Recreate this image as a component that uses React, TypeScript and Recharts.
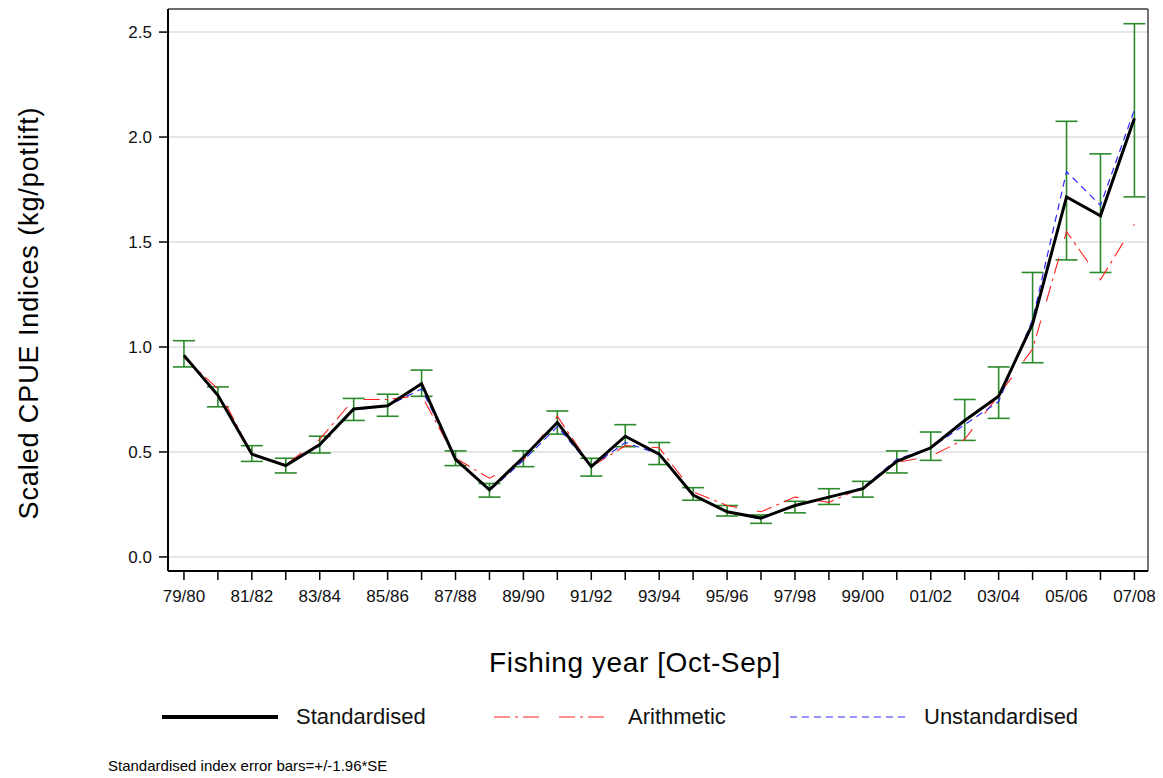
import React from "react";
import {
  CartesianGrid,
  ComposedChart,
  ErrorBar,
  Label,
  Line,
  ReferenceLine,
  XAxis,
  YAxis,
} from "recharts";

const years = [
  "79/80", "80/81", "81/82", "82/83", "83/84", "84/85", "85/86", "86/87",
  "87/88", "88/89", "89/90", "90/91", "91/92", "92/93", "93/94", "94/95",
  "95/96", "96/97", "97/98", "98/99", "99/00", "00/01", "01/02", "02/03",
  "03/04", "04/05", "05/06", "06/07", "07/08",
];

const standardised = [
  0.96, 0.77, 0.49, 0.435, 0.535, 0.705, 0.72, 0.825, 0.465, 0.32, 0.475,
  0.64, 0.43, 0.575, 0.49, 0.295, 0.215, 0.185, 0.245, 0.285, 0.325, 0.455,
  0.52, 0.65, 0.765, 1.11, 1.715, 1.625, 2.09,
];

const lower = [
  0.905, 0.715, 0.455, 0.4, 0.495, 0.65, 0.67, 0.765, 0.435, 0.285, 0.43,
  0.585, 0.385, 0.525, 0.44, 0.27, 0.195, 0.16, 0.21, 0.25, 0.285, 0.4, 0.46,
  0.555, 0.66, 0.925, 1.415, 1.355, 1.715,
];

const upper = [
  1.03, 0.81, 0.53, 0.47, 0.575, 0.755, 0.775, 0.89, 0.505, 0.35, 0.505,
  0.695, 0.47, 0.63, 0.545, 0.33, 0.245, 0.2, 0.265, 0.325, 0.36, 0.505,
  0.595, 0.75, 0.905, 1.355, 2.075, 1.92, 2.54,
];

const arithmetic = [
  0.95, 0.8, 0.49, 0.44, 0.56, 0.75, 0.75, 0.77, 0.47, 0.375, 0.46, 0.67,
  0.43, 0.53, 0.52, 0.31, 0.245, 0.215, 0.285, 0.26, 0.33, 0.45, 0.48, 0.56,
  0.77, 0.99, 1.55, 1.32, 1.585,
];

const unstandardised = [
  0.955, 0.775, 0.485, 0.435, 0.53, 0.7, 0.72, 0.8, 0.47, 0.315, 0.46, 0.62,
  0.43, 0.545, 0.49, 0.295, 0.215, 0.18, 0.245, 0.285, 0.33, 0.465, 0.52,
  0.63, 0.74, 1.13, 1.835, 1.675, 2.13,
];

const yTicks = [0, 0.5, 1, 1.5, 2, 2.5];

const data = years.map((year, i) => ({
  i,
  year,
  std: standardised[i],
  err: [standardised[i] - lower[i], upper[i] - standardised[i]],
  arith: arithmetic[i],
  unstd: unstandardised[i],
}));

const X_MIN = -0.47;
const X_MAX = 28.4;
const Y_MIN = -0.067;
const Y_MAX = 2.61;

const font = "'Liberation Sans', Arial, sans-serif";
const green = "#2b8a2b";

const legendItems = [
  { name: "Standardised", color: "#000", width: 4, dash: undefined, left: 162 },
  { name: "Arithmetic", color: "#ff2020", width: 1.1, dash: "16 5 3 5 16 20", left: 494 },
  { name: "Unstandardised", color: "#2a2aff", width: 1.2, dash: "7 5", left: 790 },
];

export default function App() {
  return (
    <div
      style={{
        position: "absolute",
        left: 0,
        top: 0,
        width: 1163,
        height: 778,
        background: "#fff",
        fontFamily: font,
      }}
    >
      <ComposedChart
        width={1163}
        height={778}
        data={data}
        margin={{ top: 9, right: 15, bottom: 0, left: 0 }}
      >
        <CartesianGrid vertical={false} stroke="#dedede" strokeWidth={1.5} />
        <XAxis
          type="number"
          dataKey="i"
          domain={[X_MIN, X_MAX]}
          allowDataOverflow
          ticks={years.map((_, i) => i)}
          interval={0}
          tickFormatter={(v) => (v % 2 === 0 ? years[v] : "")}
          height={207}
          tickSize={9}
          tickMargin={10}
          axisLine={{ stroke: "#000", strokeWidth: 2 }}
          tickLine={{ stroke: "#000", strokeWidth: 1.5 }}
          tick={{ fill: "#111", fontSize: 17, fontFamily: font }}
        >
          <Label
            content={() => (
              <text
                x={635}
                y={662}
                textAnchor="middle"
                dominantBaseline="central"
                fontSize={28}
                letterSpacing={0.6}
                fontFamily={font}
                fill="#000"
              >
                Fishing year [Oct-Sep]
              </text>
            )}
          />
        </XAxis>
        <YAxis
          type="number"
          domain={[Y_MIN, Y_MAX]}
          allowDataOverflow
          ticks={yTicks}
          interval={0}
          tickFormatter={(v) => v.toFixed(1)}
          width={168}
          tickSize={9}
          tickMargin={7}
          axisLine={{ stroke: "#000", strokeWidth: 2 }}
          tickLine={{ stroke: "#000", strokeWidth: 1.5 }}
          tick={{ fill: "#111", fontSize: 17, fontFamily: font }}
        >
          <Label
            content={() => (
              <text
                x={29}
                y={313}
                transform="rotate(-90 29 313)"
                textAnchor="middle"
                dominantBaseline="central"
                fontSize={27}
                letterSpacing={0.9}
                fontFamily={font}
                fill="#000"
              >
                Scaled CPUE Indices (kg/potlift)
              </text>
            )}
          />
        </YAxis>
        <ReferenceLine y={Y_MAX} stroke="#444" strokeWidth={1.5} />
        <ReferenceLine x={X_MAX} stroke="#444" strokeWidth={1.5} />
        <Line
          dataKey="std"
          stroke="none"
          dot={false}
          activeDot={false}
          legendType="none"
          isAnimationActive={false}
        >
          <ErrorBar
            dataKey="err"
            direction="y"
            width={11}
            stroke={green}
            strokeWidth={1.6}
            isAnimationActive={false}
          />
        </Line>
        <Line
          dataKey="arith"
          stroke="#ff2020"
          strokeWidth={1.1}
          strokeDasharray="16 5 3 5 16 20"
          dot={false}
          activeDot={false}
          isAnimationActive={false}
        />
        <Line
          dataKey="unstd"
          stroke="#2a2aff"
          strokeWidth={1.2}
          strokeDasharray="7 5"
          dot={false}
          activeDot={false}
          isAnimationActive={false}
        />
        <Line
          dataKey="std"
          stroke="#000"
          strokeWidth={3}
          dot={false}
          activeDot={false}
          isAnimationActive={false}
        />
      </ComposedChart>

      {legendItems.map((item) => (
        <div
          key={item.name}
          style={{
            position: "absolute",
            left: item.left,
            top: 703,
            height: 28,
            display: "flex",
            alignItems: "center",
          }}
        >
          <svg width={118} height={28}>
            <line
              x1={0}
              x2={116}
              y1={14}
              y2={14}
              stroke={item.color}
              strokeWidth={item.width}
              strokeDasharray={item.dash}
            />
          </svg>
          <span style={{ marginLeft: 16, fontSize: 22, color: "#111" }}>
            {item.name}
          </span>
        </div>
      ))}

      <div
        style={{
          position: "absolute",
          left: 108,
          top: 757,
          fontSize: 15,
          color: "#000",
        }}
      >
        Standardised index error bars=+/-1.96*SE
      </div>
    </div>
  );
}
